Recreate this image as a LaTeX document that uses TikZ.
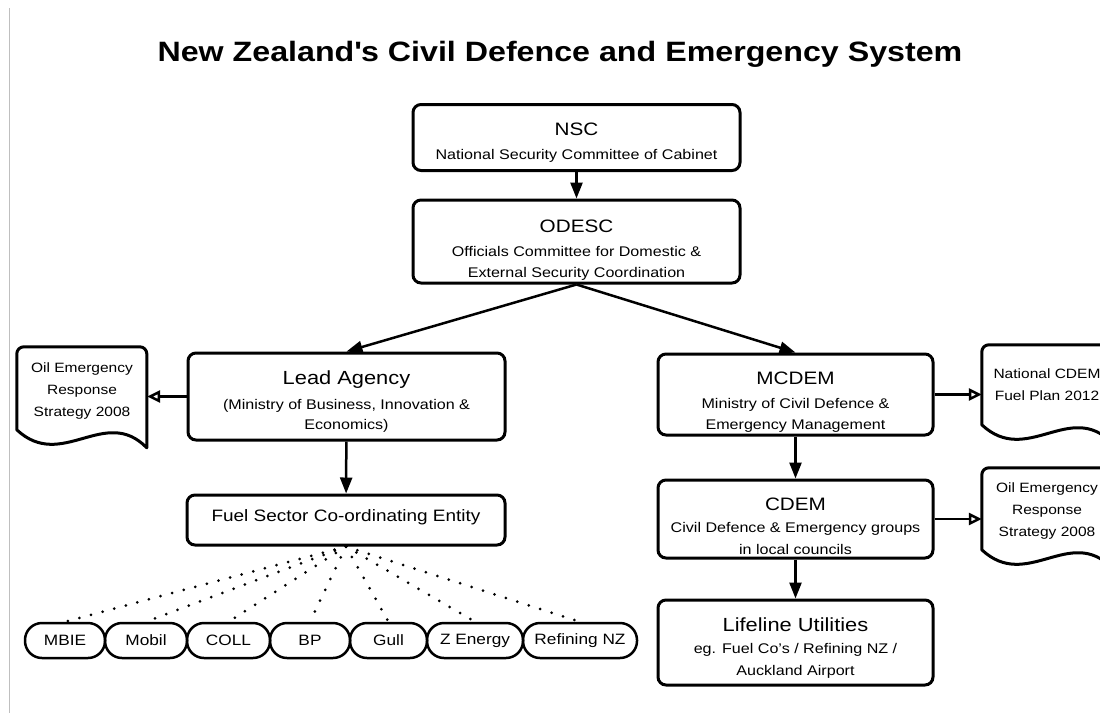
\documentclass[tikz,border=0pt]{standalone}
\usepackage{fontspec}
\setmainfont{Liberation Sans}[FakeStretch=1.15]
\usetikzlibrary{arrows.meta,calc}
\newcommand\fttl{\fontsize{28}{34}\selectfont\bfseries}
\newcommand\fhd{\fontsize{18}{22}\selectfont}
\newcommand\fbig{\fontsize{19}{23}\selectfont}
\newcommand\fsub{\fontsize{14}{21.5}\selectfont}
\newcommand\fdoc{\fontsize{13.5}{22}\selectfont}
\newcommand\foval{\fontsize{15}{18}\selectfont}
\newcommand\ffuel{\fontsize{16.5}{20}\selectfont}
\newcommand\upby[1]{\rule{0pt}{#1pt}}
\begin{document}
\begin{tikzpicture}[x=1pt,y=-1pt,
  box/.style={draw, line width=3pt, rounded corners=8pt, align=center, inner sep=0pt, font=\fsub},
  conn/.style={line width=2.5pt, -{Triangle[length=16pt,width=12pt]}},
  docarr/.style={line width=2.5pt, -{Triangle[open,length=13pt,width=12pt,fill=white]}},
  oval/.style={draw, line width=2.5pt, rounded corners=17pt, minimum height=35pt, inner sep=0pt, font=\foval},
  dots/.style={line width=3pt, line cap=round, dash pattern=on 0pt off 12pt},
  docline/.style={line width=3pt, line join=round},
  docbox/.style={minimum width=130pt, inner sep=0pt, align=center, font=\fdoc}]
\useasboundingbox (0,0) rectangle (1100,713);
\clip (0,0) rectangle (1100,713);
\fill[white] (0,0) rectangle (1100,713);
\draw[black!25, line width=1pt] (9.5,8) -- (9.5,713);

\node[font=\fttl] (title) at (560,54) {New Zealand\textquotesingle s Civil Defence and Emergency System};

\node[box, minimum width=327pt, minimum height=66pt] (nsc) at (576.5,137.5)
  {\upby{23}{\fhd NSC}\\[3pt]National Security Committee of Cabinet};
\node[box, minimum width=327pt, minimum height=83pt] (odesc) at (576.5,241.5)
  {\upby{29}{\fhd ODESC}\\[2.5pt]Officials Committee for Domestic \&\\[-0.5pt]External Security Coordination};
\node[box, minimum width=317pt, minimum height=87pt] (lead) at (346.5,396.5)
  {\upby{24}{\fbig Lead Agency}\\[3pt](Ministry of Business, Innovation \&\\[-1pt]Economics)};
\node[box, minimum width=318pt, minimum height=50pt, font=\ffuel] (fuel) at (346,520)
  {Fuel Sector Co-ordinating Entity\rule[-9.5pt]{0pt}{0pt}};
\node[box, minimum width=275pt, minimum height=81pt] (mcdem) at (795.5,394.5)
  {\upby{27}{\fhd MCDEM}\\[3pt]Ministry of Civil Defence \&\\[-1pt]Emergency Management};
\node[box, minimum width=275pt, minimum height=78pt] (cdem) at (795.5,519)
  {\upby{27}{\fhd CDEM}\\[1pt]Civil Defence \& Emergency groups\\in local councils};
\node[box, minimum width=275pt, minimum height=85pt] (life) at (795.5,642.5)
  {\upby{24}{\fbig Lifeline Utilities}\\[1pt]eg. Fuel Co's / Refining NZ /\\Auckland Airport};

\node[docbox, minimum height=83pt] (doc1) at (82,388.5) {\upby{14}Oil Emergency\\Response\\Strategy 2008};
\node[docbox, minimum height=80pt] (doc2) at (1047,385) {National CDEM\\Fuel Plan 2012};
\node[docbox, minimum height=82pt] (doc3) at (1047,509) {\upby{13}Oil Emergency\\Response\\Strategy 2008};
\begin{scope}[shift={(doc1.north west)}]
\draw[docline] (0,83) [rounded corners=7pt] -- (0,0) -- (130,0) -- (130,50) [sharp corners] -- (130,101) .. controls (88,58) and (45,125) .. (0,83) -- cycle;
\end{scope}
\begin{scope}[shift={(doc2.north west)}]
\draw[docline] (0,80) [rounded corners=7pt] -- (0,0) -- (130,0) -- (130,50) [sharp corners] -- (130,98) .. controls (88,55) and (45,122) .. (0,80) -- cycle;
\end{scope}
\begin{scope}[shift={(doc3.north west)}]
\draw[docline] (0,82) [rounded corners=7pt] -- (0,0) -- (130,0) -- (130,50) [sharp corners] -- (130,100) .. controls (88,57) and (45,124) .. (0,82) -- cycle;
\end{scope}

\node[oval, minimum width=80pt] (mbie) at (65,640.5) {MBIE};
\node[oval, minimum width=82pt] (mobil) at (146,640.5) {Mobil};
\node[oval, minimum width=83pt] (coll) at (228.5,640.5) {COLL};
\node[oval, minimum width=80pt] (bp) at (310,640.5) {BP};
\node[oval, minimum width=77pt] (gull) at (388.5,640.5) {Gull};
\node[oval, minimum width=96pt] (zen) at (475,640.5) {Z Energy};
\node[oval, minimum width=114pt] (rnz) at (580,640.5) {Refining NZ};

\draw[conn] (nsc) -- (odesc);
\draw[conn] (odesc.south) -- (lead.north);
\draw[conn] (odesc.south) -- (mcdem.north);
\draw[conn] (lead) -- (fuel);
\draw[conn] (mcdem) -- (cdem);
\draw[conn] (cdem) -- (life);
\draw[docarr] (lead.west) -- (lead.west -| doc1.east);
\draw[docarr] (mcdem.east) -- (mcdem.east -| doc2.west);
\draw[docarr] (cdem.east) -- (cdem.east -| doc3.west);

\foreach \t in {mbie,mobil,coll,bp,gull,zen,rnz}
  \draw[dots] (fuel.south) -- (\t.north);
\end{tikzpicture}
\end{document}
